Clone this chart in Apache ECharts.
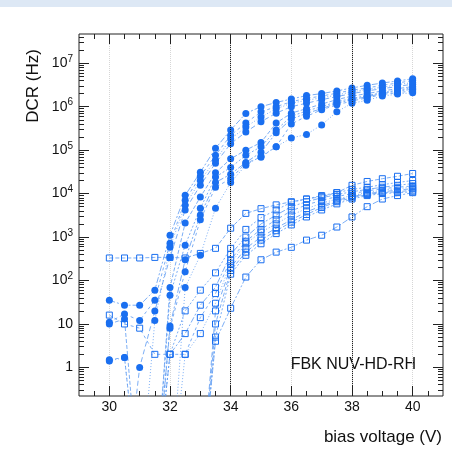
<!DOCTYPE html>
<html>
<head>
    <meta charset="utf-8">
    <title>FBK NUV-HD-RH DCR</title>
    <script src="https://cdn.jsdelivr.net/npm/echarts@6/dist/echarts.min.js"></script>
    <style type="text/css">
        html, body { margin: 0; padding: 0; background: #fff; }
        #main { width: 452px; height: 450px; }
    </style>
</head>
<body>
<div id="main"></div>
<script type="text/javascript">
    // bias voltage (V) of every point
    var volts = [30, 30.5, 31, 31.5, 32, 32.5, 33, 33.5, 34, 34.5, 35, 35.5, 36, 36.5, 37, 37.5, 38, 38.5, 39, 39.5, 40];

    // DCR (Hz), filled circles (high group); 0 = no counts
    var hiA1 = [35, 27, 27, 60, 1100, 9100, 3.1e4, 1.1e5, 2.9e5, 7.0e5, 1.0e6, 1.25e6, 1.5e6, 1.8e6, 2.0e6, 2.3e6, 2.7e6, 3.1e6, 3.5e6, 3.9e6, 4.4e6];
    var hiA2 = [11, 17, 12, 35, 720, 7000, 2.5e4, 7.6e4, 2.2e5, 4.2e5, 7.6e5, 1.0e6, 1.3e6, 1.55e6, 1.75e6, 2.05e6, 2.4e6, 2.7e6, 3.1e6, 3.5e6, 4.0e6];
    var hiA3 = [1.4, 1.7, 0, 12, 580, 5400, 2.0e4, 5.9e4, 1.8e5, 3.4e5, 5.8e5, 8.9e5, 1.2e6, 1.4e6, 1.6e6, 1.85e6, 2.2e6, 2.5e6, 2.8e6, 3.2e6, 3.6e6];
    var hiA4 = [0, 0, 1.0, 20, 340, 4200, 1.55e4, 5.0e4, 1.4e5, 2.6e5, 4.5e5, 7.1e5, 1.0e6, 1.2e6, 1.45e6, 1.7e6, 2.0e6, 2.3e6, 2.6e6, 2.9e6, 3.3e6];
    var hiB1 = [10, 13, 0, 0, 69, 2100, 8300, 3.0e4, 6.3e4, 1.0e5, 1.5e5, 4.2e5, 7.1e5, 9.0e5, 1.15e6, 1.45e6, 1.75e6, 2.0e6, 2.3e6, 2.6e6, 2.9e6];
    var hiB2 = [0, 0, 0, 0, 46, 650, 4600, 2.4e4, 4.0e4, 7.6e4, 1.2e5, 2.9e5, 6.0e5, 8.0e5, 1.0e6, 1.3e6, 1.55e6, 1.8e6, 2.1e6, 2.4e6, 2.7e6];
    var hiB3 = [0, 0, 0, 0, 9, 300, 3200, 1.8e4, 2.8e4, 5.2e4, 8.9e4, 2.5e5, 5.2e5, 7.0e5, 9.0e5, 1.2e6, 1.45e6, 1.7e6, 2.0e6, 2.3e6, 2.5e6];
    var hiB4 = [1.5, 1.7, 0, 0, 8, 160, 2500, 1.4e4, 2.2e4, 5.0e4, 6.9e4, 1.2e5, 4.0e5, 6.0e5, 8.5e5, 1.1e6, 1.35e6, 1.6e6, 1.9e6, 2.1e6, 2.3e6];
    var hiC  = [0, 0, 0, 0, 0, 69, 380, 4600, 1.8e4, 4.5e4, 7.2e4, 1.2e5, 1.9e5, 2.3e5, 3.8e5, 7.6e5, 1.2e6, 1.4e6, 1.75e6, 1.95e6, 2.1e6];

    // DCR (Hz), open squares (low group)
    var loL1 = [330, 330, 330, 340, 340, 330, 420, 550, 1600, 3500, 4500, 5500, 6500, 7500, 8500, 1.05e4, 1.55e4, 1.9e4, 2.2e4, 2.5e4, 2.9e4];
    var loL2 = [0, 0, 0, 0, 2, 20, 60, 150, 550, 1500, 2800, 4200, 6300, 7500, 9000, 1.05e4, 1.25e4, 1.4e4, 1.6e4, 1.8e4, 2.0e4];
    var loL3 = [0, 0, 0, 0, 2, 6, 27, 70, 400, 1000, 2000, 3200, 5000, 6500, 8000, 9500, 1.1e4, 1.25e4, 1.4e4, 1.55e4, 1.7e4];
    var loL4 = [16, 10, 8, 2, 2, 2, 14, 50, 300, 800, 1500, 2500, 4000, 5500, 7000, 8500, 1.0e4, 1.15e4, 1.3e4, 1.4e4, 1.5e4];
    var loL5 = [0, 0, 0, 0, 0, 2, 6, 30, 250, 700, 1300, 2000, 3200, 4500, 6000, 7500, 9000, 1.05e4, 1.2e4, 1.3e4, 1.4e4];
    var loL6 = [0, 0, 0, 0, 0, 0, 0, 20, 200, 550, 1000, 1600, 2500, 3800, 5200, 7000, 8500, 1.0e4, 1.1e4, 1.2e4, 1.3e4];
    var loL7 = [0, 0, 0, 0, 0, 0, 0, 10, 170, 450, 850, 1400, 2200, 3300, 4800, 6500, 8000, 9500, 1.05e4, 1.1e4, 1.2e4];
    var loL8 = [0, 0, 0, 0, 0, 0, 0, 5, 140, 380, 700, 1200, 1900, 2900, 4200, 5800, 7500, 9000, 1.0e4, 1.05e4, 1.1e4];
    var loLz = [0, 0, 0, 0, 0, 0, 0, 4, 23, 120, 300, 450, 580, 850, 1100, 1700, 2900, 5000, 7500, 9000, 1.05e4];

    var hiSeries = [hiA1, hiA2, hiA3, hiA4, hiB1, hiB2, hiB3, hiB4, hiC];
    var loSeries = [loL1, loL2, loL3, loL4, loL5, loL6, loL7, loL8, loLz];

    // axis ticks and labels
    var xMajor = [30, 32, 34, 36, 38, 40];
    var xMinor = [29.5, 30.5, 31, 31.5, 32.5, 33, 33.5, 34.5, 35, 35.5, 36.5, 37, 37.5, 38.5, 39, 39.5, 40.5];
    var yMajor = [1, 10, 1e2, 1e3, 1e4, 1e5, 1e6, 1e7];
    var yMinor = [];
    for (var d = -1; d <= 7; d++) {
        for (var k = 2; k <= 9; k++) yMinor.push(k * Math.pow(10, d));
    }
    var refLines = [34, 38];

    var BLUE = '#1a6ff0';
    var ZERO = 1e-3; // log axis cannot show 0: drop to below the frame
    var dashes = [[4, 2], [2, 2], [6, 2, 2, 2], [3, 3], [1, 2], [5, 3]];

    var myChart = echarts.init(document.getElementById('main'));

    function toPoints(vals) {
        var res = [];
        for (var i = 0; i < vals.length; i++) {
            if (vals[i] === null) continue;
            res.push([volts[i], vals[i] > 0 ? vals[i] : ZERO]);
        }
        return res;
    }

    var series = [];
    loSeries.forEach(function (vals, i) {
        series.push({
            type: 'line',
            data: toPoints(vals),
            symbol: 'rect',
            symbolSize: 6,
            showAllSymbol: true,
            lineStyle: { color: '#5b9af2', width: 1, type: dashes[i % dashes.length], opacity: 0.8 },
            itemStyle: { color: 'rgba(255,255,255,0)', borderColor: BLUE, borderWidth: 1 },
            animation: false
        });
    });
    hiSeries.forEach(function (vals, i) {
        series.push({
            type: 'line',
            data: toPoints(vals),
            symbol: 'circle',
            symbolSize: 7,
            showAllSymbol: true,
            lineStyle: { color: '#5b9af2', width: 1, type: dashes[(i + 2) % dashes.length], opacity: 0.8 },
            itemStyle: { color: BLUE },
            animation: false
        });
    });
    series[0].markLine = {
        silent: true,
        symbol: 'none',
        label: { show: false },
        lineStyle: { color: '#222', type: 'dotted', width: 1 },
        data: refLines.map(function (v) { return { xAxis: v }; })
    };

    function xAx(pos, ticks, len, main) {
        return {
            type: 'value', min: 29, max: 41, position: pos,
            axisLine: { show: false },
            axisTick: { show: true, inside: true, length: len, customValues: ticks, lineStyle: { color: '#222' } },
            axisLabel: { show: main, customValues: xMajor, fontSize: 14, color: '#111', fontFamily: 'Liberation Sans', margin: 4 },
            splitLine: { show: main, lineStyle: { color: '#d6d6d6', type: 'dotted' } }
        };
    }
    function yAx(pos, ticks, len, main) {
        return {
            type: 'log', logBase: 10, min: 0.22, max: 4.7e7, position: pos,
            axisLine: { show: false },
            axisTick: { show: true, inside: true, length: len, customValues: ticks, lineStyle: { color: '#222' } },
            axisLabel: {
                show: main, customValues: yMajor, fontSize: 14, color: '#111', fontFamily: 'Liberation Sans', margin: 6,
                formatter: function (v) {
                    var e = Math.round(Math.log10(v));
                    if (e === 0) return '1';
                    if (e === 1) return '10';
                    return '10{sup|' + e + '}';
                },
                rich: { sup: { fontSize: 10, fontFamily: 'Liberation Sans', color: '#111', padding: [0, 0, 8, 0] } }
            },
            splitLine: { show: false }
        };
    }

    var option = {
        backgroundColor: '#fff',
        animation: false,
        grid: { left: 79, top: 34, right: 9, bottom: 54, show: true, borderColor: '#222', borderWidth: 1, backgroundColor: 'transparent' },
        xAxis: [
            xAx('bottom', xMajor, 10, true),
            xAx('bottom', xMinor, 5, false),
            xAx('top', xMajor, 10, false),
            xAx('top', xMinor, 5, false)
        ],
        yAxis: [
            yAx('left', yMajor, 10, true),
            yAx('left', yMinor, 5, false),
            yAx('right', yMajor, 10, false),
            yAx('right', yMinor, 5, false)
        ],
        series: series,
        graphic: [
            { type: 'rect', left: 0, top: 0, shape: { width: 452, height: 7 }, style: { fill: '#dde8f5' }, silent: true },
            { type: 'text', x: 33, y: 86, rotation: Math.PI / 2,
              style: { text: 'DCR (Hz)', fontSize: 17, fontFamily: 'Liberation Sans', fill: '#111', align: 'center', verticalAlign: 'middle' } },
            { type: 'text', x: 442, y: 437,
              style: { text: 'bias voltage (V)', fontSize: 17, fontFamily: 'Liberation Sans', fill: '#111', align: 'right', verticalAlign: 'middle' } },
            { type: 'text', x: 416, y: 365,
              style: { text: 'FBK NUV-HD-RH', fontSize: 16, fontFamily: 'Liberation Sans', fill: '#111', align: 'right', verticalAlign: 'middle' } }
        ]
    };
    myChart.setOption(option);
</script>
</body>
</html>
